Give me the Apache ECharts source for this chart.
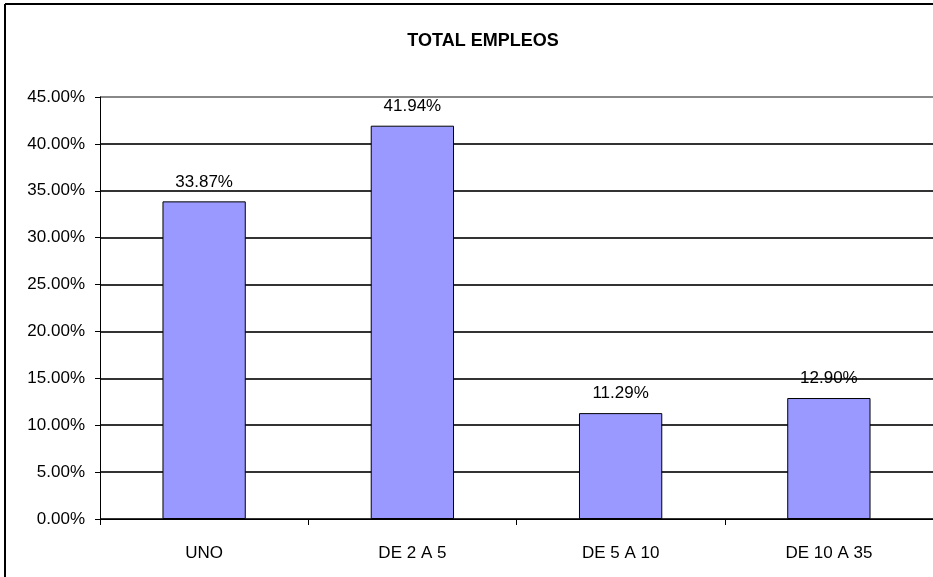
<!DOCTYPE html>
<html>
<head>
<meta charset="utf-8">
<script src="https://cdn.jsdelivr.net/npm/echarts@6/dist/echarts.min.js"></script>
<style>
  html, body { margin: 0; padding: 0; background: #fff; overflow: hidden; }
  #chart { width: 933px; height: 577px; }
</style>
</head>
<body>
<div id="chart"></div>
<script>
// Employment share by company size band
const categories = ['UNO', 'DE 2 A 5', 'DE 5 A 10', 'DE 10 A 35'];
const shares = [33.87, 41.94, 11.29, 12.90];
const yTicks = { min: 0, max: 45, step: 5 };

const font = 'Liberation Sans, Arial, sans-serif';
const chart = echarts.init(document.getElementById('chart'), null, { renderer: 'canvas' });

chart.setOption({
  animation: false,
  backgroundColor: '#fff',
  title: {
    text: 'TOTAL EMPLEOS',
    left: 478,
    top: 27,
    textAlign: 'center',
    textStyle: { fontFamily: font, fontSize: 18, fontWeight: 'bold', color: '#000' }
  },
  // outer frame: only the left and top edges fall inside the view
  graphic: [
    { type: 'line', shape: { x1: 5, y1: 4, x2: 5, y2: 577 }, style: { stroke: '#000', lineWidth: 2 }, silent: true },
    { type: 'line', shape: { x1: 5, y1: 4, x2: 940, y2: 4 }, style: { stroke: '#000', lineWidth: 2 }, silent: true }
  ],
  grid: { left: 100, top: 97, right: -1, bottom: 58, containLabel: false },
  xAxis: {
    type: 'category',
    data: categories,
    boundaryGap: true,
    axisLine: { lineStyle: { color: '#000', width: 1 } },
    axisTick: { show: true, length: 6, lineStyle: { color: '#000' } },
    axisLabel: { fontFamily: font, fontSize: 17, color: '#000', margin: 26 },
    splitLine: { show: false }
  },
  yAxis: {
    type: 'value',
    min: yTicks.min,
    max: yTicks.max,
    interval: yTicks.step,
    axisLine: { show: true, lineStyle: { color: '#000', width: 1 } },
    axisTick: { show: true, length: 5, lineStyle: { color: '#000' } },
    axisLabel: {
      fontFamily: font, fontSize: 17, color: '#000', margin: 15,
      formatter: v => v.toFixed(2) + '%'
    },
    splitLine: {
      show: true,
      lineStyle: {
        color: ['#333', '#333', '#333', '#333', '#333', '#333', '#333', '#333', '#333', '#888'],
        width: 2
      }
    }
  },
  series: [{
    type: 'bar',
    data: shares,
    barWidth: '40%',
    itemStyle: { color: '#9999FF', borderColor: '#000', borderWidth: 1 },
    label: {
      show: true,
      position: 'top',
      distance: 11,
      fontFamily: font,
      fontSize: 17,
      color: '#000',
      formatter: p => p.value.toFixed(2) + '%'
    }
  }]
});
</script>
</body>
</html>
